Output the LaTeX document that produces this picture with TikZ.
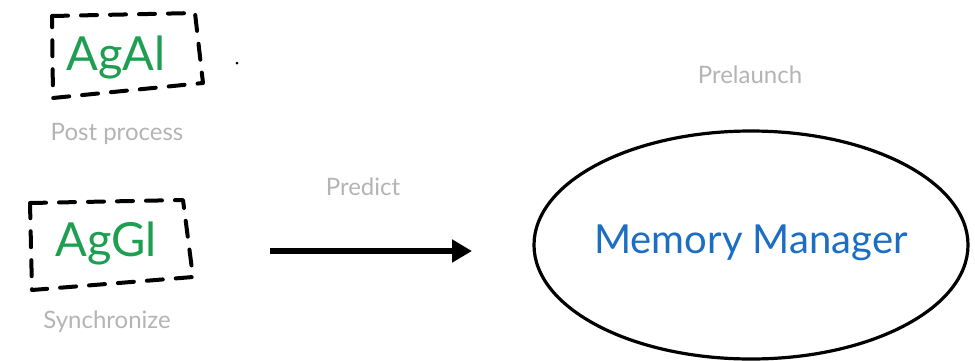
\documentclass[tikz,border=0pt]{standalone}
\usepackage{fontspec}
\setmainfont{Lato}
\usetikzlibrary{arrows.meta,shapes.geometric}
\definecolor{tagGreen}{HTML}{1E9E50}
\definecolor{mgrBlue}{HTML}{1B6EC2}
\definecolor{capGray}{HTML}{B4B4B4}
\tikzset{
  tagbox/.style={line width=4pt, dash pattern=on 16pt off 13pt, line cap=round, line join=round},
  tagtext/.style={text=tagGreen, font=\fontsize{47}{52}\selectfont, inner sep=0pt},
  caption/.style={text=capGray, font=\fontsize{24}{28}\selectfont, inner sep=0pt},
  mgr/.style={draw, ellipse, line width=3.2pt, minimum width=434pt, minimum height=228pt},
  flow/.style={line width=6pt, -{Triangle[length=20pt,width=22pt]}}
}
\begin{document}
\begin{tikzpicture}[x=1pt,y=-1pt]
  \useasboundingbox (0,0) rectangle (975,360);

  % upper tag: AgAl
  \coordinate (a1) at (52,16);
  \coordinate (a2) at (195,13);
  \coordinate (a3) at (203,83);
  \coordinate (a4) at (53,98);
  \draw[tagbox] (a1) -- (a2) -- (a3) -- (a4) -- cycle;
  \node[tagtext] (agal) at (116,57) {AgAl};
  \node[caption] (post) at (117,134) {Post process};
  \coordinate (tick) at (237,63);
  \fill (tick) circle (1.5pt);

  % lower tag: AgGl
  \coordinate (b1) at (30,203);
  \coordinate (b2) at (183,200);
  \coordinate (b3) at (193,277);
  \coordinate (b4) at (32,290);
  \draw[tagbox] (b1) -- (b2) -- (b3) -- (b4) -- cycle;
  \node[tagtext] (aggl) at (106,243) {AgGl};
  \node[caption] (sync) at (107,322) {Synchronize};

  % predict arrow
  \node[caption] (predict) at (363,187) {Predict};
  \coordinate (from) at (270,251);
  \coordinate (to) at (472,251);
  \draw[flow] (from) -- (to);

  % memory manager
  \node[caption] (prelaunch) at (750,75) {Prelaunch};
  \node[mgr] (mm) at (751,245) {};
  \node[text=mgrBlue, font=\fontsize{40}{44}\selectfont, inner sep=0pt] (mmlabel) at (751,243) {Memory Manager};
\end{tikzpicture}
\end{document}
